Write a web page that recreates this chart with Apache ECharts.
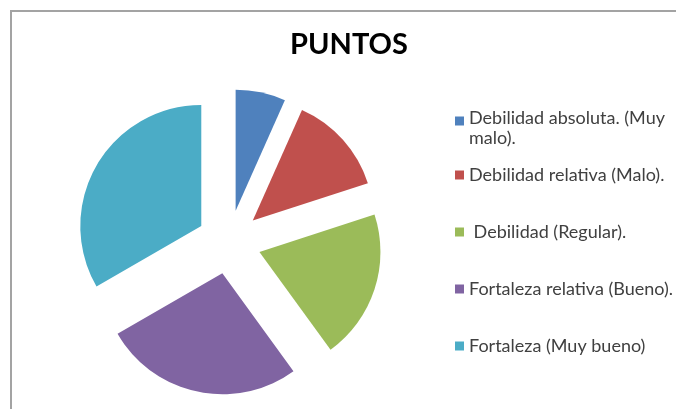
<!DOCTYPE html>
<html>
<head>
<meta charset="utf-8">
<script src="https://cdn.jsdelivr.net/npm/echarts@6/dist/echarts.min.js"></script>
<style>
  html, body { margin: 0; padding: 0; background: #ffffff; }
  #chart { width: 676px; height: 409px; }
</style>
</head>
<body>
<div id="chart"></div>
<script>
// Categories and their point scores
const categories = [
  'Debilidad absoluta. (Muy malo).',
  'Debilidad relativa (Malo).',
  ' Debilidad (Regular).',
  'Fortaleza relativa (Bueno).',
  'Fortaleza (Muy bueno)'
];
const puntos = [1, 2, 3, 4, 5];
const colors = ['#4F81BD', '#C0504D', '#9BBB59', '#8064A2', '#4BACC6'];
const legendTops = [108, 165, 222, 279, 336];

const FONT = 'Lato, "Open Sans", sans-serif';
const LEGEND_FONT_SIZE = 18;
const LEGEND_MAX_WIDTH = 200;

// Word-wrap a legend label to a maximum pixel width
const measureCtx = document.createElement('canvas').getContext('2d');
function wrapLabel(text) {
  measureCtx.font = LEGEND_FONT_SIZE + 'px ' + FONT;
  const words = text.split(' ');
  const lines = [];
  let line = '';
  words.forEach(w => {
    const trial = line === '' ? w : line + ' ' + w;
    if (line !== '' && measureCtx.measureText(trial).width > LEGEND_MAX_WIDTH) {
      lines.push(line);
      line = w;
    } else {
      line = trial;
    }
  });
  lines.push(line);
  return lines.join('\n');
}

const chart = echarts.init(document.getElementById('chart'), null, { renderer: 'canvas' });

// One legend block per category so each entry keeps its own row position.
// The first entry wraps onto two lines; its swatch sits beside the first line.
const legends = categories.map((name, i) => {
  const wrapped = i === 0;
  return {
    data: [name],
    orient: 'vertical',
    left: 455,
    top: legendTops[i],
    padding: 0,
    icon: wrapped ? 'path://M0,0M0,8.5h9v9h-9zM9,40' : 'rect',
    itemWidth: 9,
    itemHeight: wrapped ? 40 : 9,
    itemGap: 0,
    selectedMode: false,
    formatter: wrapped ? wrapLabel : '{name}',
    textStyle: {
      fontFamily: FONT,
      fontSize: LEGEND_FONT_SIZE,
      color: '#404040',
      lineHeight: 20
    }
  };
});

chart.setOption({
  animation: false,
  title: {
    text: 'PUNTOS',
    left: 349,
    textAlign: 'center',
    top: 30,
    padding: 0,
    textStyle: { fontFamily: FONT, fontWeight: 'bold', fontSize: 29, color: '#000000' }
  },
  legend: legends,
  graphic: [{
    type: 'rect',
    shape: { x: 11, y: 11, width: 700, height: 420 },
    style: { fill: null, stroke: '#a3a3a3', lineWidth: 2 },
    silent: true
  }],
  series: [{
    type: 'pie',
    center: [229, 242],
    radius: 121,
    startAngle: 90,
    clockwise: true,
    selectedMode: 'multiple',
    selectedOffset: 32,
    label: { show: false },
    labelLine: { show: false },
    emphasis: { disabled: true },
    itemStyle: { borderWidth: 0 },
    data: categories.map((name, i) => ({
      name: name,
      value: puntos[i],
      selected: true,
      itemStyle: { color: colors[i] }
    }))
  }]
});
</script>
</body>
</html>
